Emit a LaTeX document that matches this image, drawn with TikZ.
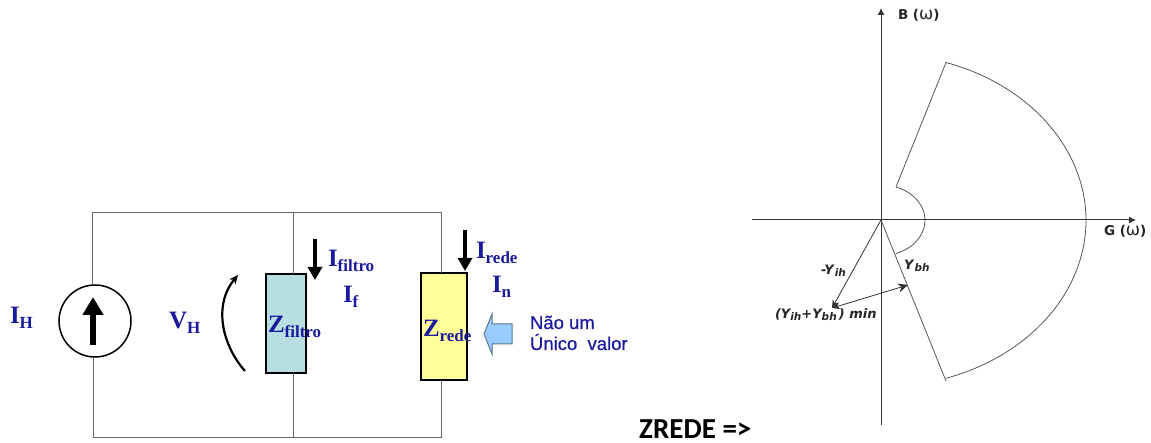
\documentclass[tikz,border=0pt]{standalone}
\usepackage{fontspec}
\setmainfont{Liberation Serif}
\newfontfamily\lsans[RawFeature={embolden=0.6}]{Liberation Sans}
\newfontfamily\dvs{DejaVu Sans}
\newfontfamily\crl{Carlito}
\usetikzlibrary{arrows.meta,calc}
\definecolor{lblue}{HTML}{1A1A9C}
\definecolor{wirec}{HTML}{666666}
\definecolor{axisc}{HTML}{777777}
\definecolor{curvec}{HTML}{555555}
\newcommand{\bigsub}[2]{{\fontsize{25}{25}\selectfont\bfseries #1}{\fontsize{17}{17}\selectfont\bfseries\raisebox{-5pt}{#2}}}
\newcommand{\smsub}[2]{#1{\fontsize{10.5}{10.5}\selectfont\raisebox{-2pt}{#2}}}
\newcommand{\omegawide}{{\fontseries{m}\fontshape{n}\fontsize{17}{17}\selectfont ω}}
\tikzset{
  wire/.style={draw=wirec,line width=1pt},
  imped/.style={draw=black,line width=1.5pt,minimum width=#1,inner sep=0pt,outer sep=0pt},
  cursym/.style={-{Triangle[length=13pt,width=14pt]},line width=4pt,black},
  clabel/.style={text=lblue,anchor=base west,inner sep=0pt,outer sep=0pt},
  plabel/.style={anchor=base west,inner sep=0pt,outer sep=0pt,font=\dvs\bfseries\fontsize{13}{13}\selectfont,text=black!85},
  axlabel/.style={anchor=base west,inner sep=0pt,outer sep=0pt,font=\dvs\bfseries\fontsize{13.5}{13.5}\selectfont,text=black!85},
  axisl/.style={draw=axisc,line width=1pt,-{Latex[length=7pt,width=7pt]},black!80},
  vec/.style={draw=curvec,line width=.8pt},
  curve/.style={draw=curvec,line width=.8pt},
}
\begin{document}
\begin{tikzpicture}[x=1pt,y=-1pt]
\useasboundingbox (0,0) rectangle (1151,443);
% corners
\coordinate (tl) at (92,213);
\coordinate (tm) at (293.5,213);
\coordinate (tr) at (441,213);
\coordinate (bl) at (93.5,437);
\coordinate (bm) at (293.5,437);
\coordinate (br) at (441,437);
% elements
\node[circle,draw=black,line width=1.5pt,fill=white,minimum size=72pt,inner sep=0pt,outer sep=0pt] (src) at (95,321) {};
\node[imped=40pt,minimum height=99pt,fill={rgb,255:red,183;green,222;blue,224}] (zf) at (286,323.5) {};
\node[imped=46pt,minimum height=107pt,fill={rgb,255:red,255;green,255;blue,153}] (zr) at (444,326.5) {};
% wires
\draw[wire] (src.north -| tl) -- (tl) -- (tr) -- (zr.north -| tr);
\draw[wire] (tm) -- (zf.north -| tm);
\draw[wire] (src.south -| bl) -- (bl) -- (br) -- (zr.south -| br);
\draw[wire] (zf.south -| bm) -- (bm);
% source arrow
\coordinate (sa) at (93,345);
\coordinate (sb) at (93,297);
\draw[-{Triangle[length=18pt,width=20pt]},line width=6pt,black] (sa) -- (sb);
% current arrows
\coordinate (ifa) at (315,239);
\coordinate (ifb) at (315,280);
\draw[cursym] (ifa) -- (ifb);
\coordinate (ira) at (465,230);
\coordinate (irb) at (465,271);
\draw[cursym] (ira) -- (irb);
% voltage arrow
\coordinate (va) at (245,371);
\coordinate (vb) at (238,275);
\draw[line width=2.2pt,black,-{Stealth[length=9pt,width=8pt]}] (va) .. controls (222,345) and (213,305) .. (vb);
% block arrow
\draw[draw={rgb,255:red,90;green,120;blue,140},line width=1pt,fill={rgb,255:red,153;green,204;blue,255}]
  (512,324) -- (492,324) -- (492,314) -- (484,334) -- (492,354) -- (492,344) -- (512,344) -- cycle;
% labels
\node[clabel] (lih) at (10,324) {\bigsub{I}{H}};
\node[clabel] (lvh) at (169,329) {\bigsub{V}{H}};
\node[clabel] (lzf) at (268,333) {\bigsub{Z}{filtro}};
\node[clabel] (lzr) at (423,337) {\bigsub{Z}{rede}};
\node[clabel] (lif) at (328,267) {\bigsub{I}{filtro}};
\node[clabel] (lf) at (343,303) {\bigsub{I}{f}};
\node[clabel] (lir) at (476,259) {\bigsub{I}{rede}};
\node[clabel] (ln) at (492,293) {\bigsub{I}{n}};
\node[clabel,font=\lsans\fontsize{18.5}{18.5}\selectfont] (nao) at (530,329) {Não um};
\node[clabel,font=\lsans\fontsize{18.5}{18.5}\selectfont] (uni) at (530,350) {Único\ \ valor};
\node[anchor=base west,inner sep=0pt,font=\crl\bfseries\fontsize{29}{29}\selectfont] (zn) at (639,438) {ZREDE =>};
% right diagram
\coordinate (o) at (881,220);
\coordinate (xa) at (752,220);
\coordinate (xb) at (1136,220);
\coordinate (ya) at (881,425);
\coordinate (yb) at (881,8);
\draw[axisl] (xa) -- (xb);
\draw[axisl] (ya) -- (yb);
\coordinate (p1) at (896,187);
\coordinate (p2) at (946,62.5);
\coordinate (p4) at (946,381);
\draw[curve] (p1) -- (p2) arc[start angle=-71.5,end angle=71.5,x radius=205,y radius=166.5];
\draw[curve] (p1) arc[start angle=-70,end angle=70,x radius=44,y radius=35.4];
\draw[curve] (o) -- (p4);
\coordinate (v1) at (832,308);
\coordinate (v2) at (908,285);
\draw[vec,-{Stealth[length=8pt,width=7pt]},black!80] (o) -- (v1);
\draw[vec,{Stealth[length=8pt,width=7pt]}-{Stealth[length=10pt,width=9pt]},black!80] (v1) -- (v2);
\node[plabel] (ly1) at (821,275) {\smsub{\textit{-Y}}{\textit{ih}}};
\node[plabel] (ly2) at (904,270) {\smsub{\textit{Y}}{\textit{bh}}};
\node[plabel] (ly3) at (775,319) {\textit{(\smsub{Y}{ih}+\smsub{Y}{bh}\,) min}};
\node[axlabel] (lb) at (898,20) {B (\omegawide)};
\node[axlabel] (lg) at (1104,236) {G (\omegawide)};
\end{tikzpicture}
\end{document}
